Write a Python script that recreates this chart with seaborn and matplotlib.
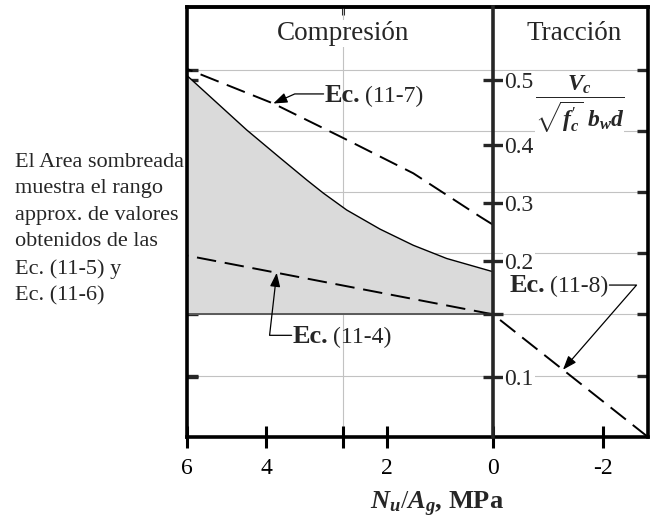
import matplotlib
matplotlib.use("Agg")
import matplotlib.pyplot as plt
import numpy as np
import seaborn as sns

# Nu/Ag (MPa), compression to the left
solid_x = [5.625, 4.528, 3.915, 3.425, 3.119, 2.689, 2.077, 1.465, 0.851, 0.0]
solid_y = [0.492, 0.418, 0.380, 0.350, 0.332, 0.309, 0.283, 0.261, 0.243, 0.225]
ec117_x = [5.625, 4.039, 2.752, 1.465, 0.239, 0.0]
ec117_y = [0.501, 0.454, 0.407, 0.359, 0.300, 0.289]
ec114_x = [5.625, 0.0]
ec114_y = [0.247, 0.167]
ec118_x = [0.0, -2.85]
ec118_y = [0.167, 0.0]
v_base = 0.167

# grid / ticks
grid_y = [0.083, 0.167, 0.25, 0.333, 0.417, 0.5]
grid_x = [2.76]
x_tick_pos = [5.625, 4.17, 1.95, 0.0, -2.02]
x_tick_lab = ['6', '4', '2', '0', '-2']
vc_tick_pos = [0.486, 0.398, 0.319, 0.240, 0.167, 0.082]
vc_tick_lab = ['0.5', '0.4', '0.3', '0.2', '', '0.1']
x_left, x_right = 5.625, -2.85
y_top = 0.585

sns.set_theme(style='white')
plt.rcParams['font.family'] = ['Liberation Serif', 'DejaVu Serif']
plt.rcParams['mathtext.fontset'] = 'custom'
plt.rcParams['mathtext.rm'] = 'Liberation Serif'
plt.rcParams['mathtext.it'] = 'Liberation Serif:italic:bold'
plt.rcParams['mathtext.bf'] = 'Liberation Serif:bold'

fig = plt.figure(figsize=(6.53, 5.19), dpi=100)
ax = fig.add_axes([0.2864, 0.158, 0.7059, 0.828])

# shaded range of Ec. (11-5) and (11-6)
ax.fill_between(solid_x, v_base, solid_y, color='#dadada', lw=0, zorder=1)
ax.hlines(v_base, 0, solid_x[0], color='#505050', lw=1.3, zorder=2)

dash = (0, (10, 4.5))
sns.lineplot(x=solid_x, y=solid_y, ax=ax, color='black', lw=1.0)
sns.lineplot(x=ec117_x, y=ec117_y, ax=ax, color='black', lw=1.4, linestyle=dash)
sns.lineplot(x=ec114_x, y=ec114_y, ax=ax, color='black', lw=1.4, linestyle=dash)
sns.lineplot(x=ec118_x, y=ec118_y, ax=ax, color='black', lw=1.4, linestyle=dash)

ax.set_xlim(x_left, x_right)
ax.set_ylim(0, y_top)

for s in ax.spines.values():
    s.set_visible(True)
    s.set_color('black')
    s.set_linewidth(2.6)

# ticks
ax.set_xticks(x_tick_pos, x_tick_lab)
ax.set_xticks(grid_x, minor=True)
ax.set_yticks(grid_y, [''] * len(grid_y))
ax.set_yticks(vc_tick_pos, minor=True)
ax.tick_params(axis='x', which='both', bottom=True, top=False, direction='inout',
               length=16.5, width=2.2, labelsize=17, pad=7, colors='black')
ax.tick_params(axis='y', which='major', left=True, right=True, direction='in',
               length=8, width=2.4, labelleft=False)
ax.tick_params(axis='y', which='minor', left=True, right=False, direction='in',
               length=8, width=2.4)
ax.grid(axis='y', which='major', color='#c2c2c2', lw=0.8)
ax.grid(axis='x', which='minor', color='#c2c2c2', lw=0.8)

top = ax.secondary_xaxis('top')
top.set_xticks(grid_x, [''])
top.tick_params(direction='in', length=6, width=2.2)
top.spines['top'].set_linewidth(2.6)

# Vc axis along Nu/Ag = 0
frac = x_left / (x_left - x_right)
sec = ax.secondary_yaxis(frac)
sec.set_zorder(3)
sec.spines['right'].set_linewidth(2.6)
sec.spines['left'].set_linewidth(2.6)
sec.set_yticks(vc_tick_pos, vc_tick_lab)
sec.tick_params(direction='inout', length=14, width=2.4, labelsize=17, pad=1)
for lbl in sec.get_yticklabels():
    lbl.set_bbox(dict(facecolor='white', edgecolor='none', pad=1))

ax.set_xlabel(r'$N_u/A_g$, MPa', fontsize=19, fontweight='bold')
ax.xaxis.set_label_coords(0.542, -0.123)

# headers
box = dict(facecolor='white', edgecolor='none', pad=1)
ax.text(2.76, 0.5406, 'Compresión', fontsize=19.5, ha='center', va='baseline', bbox=box)
ax.text(-1.49, 0.5406, 'Tracción', fontsize=19.5, ha='center', va='baseline', bbox=box)
ax.text(-1.59, 0.453, r'$\dfrac{V_c}{\sqrt{f_c^{\prime}}\ b_w d}$', fontsize=17,
        ha='center', va='center', bbox=dict(facecolor='white', edgecolor='none', pad=0))

fig.text(15 / 653, 1 - 153 / 519,
         'El Area sombreada\nmuestra el rango\napprox. de valores\n'
         'obtenidos de las\nEc. (11-5) y\nEc. (11-6)',
         fontsize=16, ha='left', va='top', linespacing=1.53)

arrow = dict(arrowstyle='-|>,head_length=0.6,head_width=0.22', color='black',
             lw=0.9, mutation_scale=14, shrinkA=1, shrinkB=0)


def on_line(x, xs, ys):
    order = np.argsort(xs)
    return float(np.interp(x, np.asarray(xs)[order], np.asarray(ys)[order]))


def label(x, y, name, tip_x, line_x, line_y, side, angle):
    ec = ax.text(x, y, 'Ec.', fontsize=19, fontweight='bold', ha='left', va='baseline')
    num = ax.annotate(name, xy=(1, 0), xycoords=ec, xytext=(3, 0),
                      textcoords='offset points', fontsize=17, ha='left', va='bottom')
    tip_y = on_line(tip_x, line_x, line_y)
    start = (0, 0.55) if side == 'left' else (1, 0.55)
    src = ec if side == 'left' else num
    ax.annotate('', xy=(tip_x, tip_y), xycoords='data', xytext=start, textcoords=src,
                arrowprops=dict(arrow, connectionstyle=f'angle,angleA=0,angleB={angle},rad=0'))


label(3.088, 0.4566, '(11-7)', 4.039, ec117_x, ec117_y, 'left', 24)
label(3.676, 0.128, '(11-4)', 3.976, ec114_x, ec114_y, 'left', 83.5)
label(-0.3125, 0.1978, '(11-8)', -1.287, ec118_x, ec118_y, 'right', 49)

fig.savefig('out.png', dpi=100)
